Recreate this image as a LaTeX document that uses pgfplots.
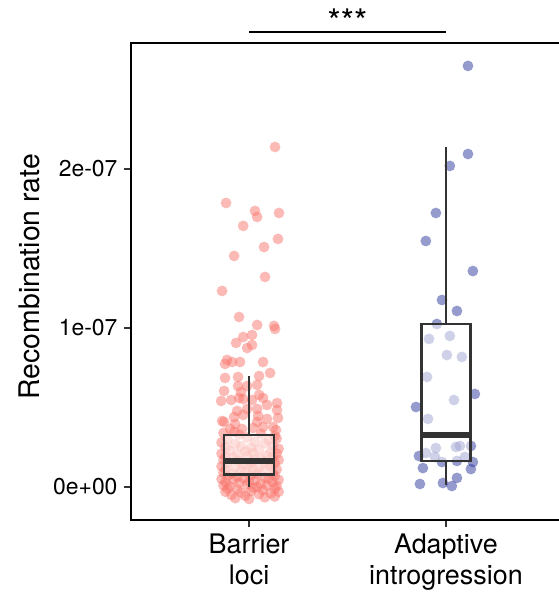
\documentclass[border=0pt]{standalone}
\usepackage{pgfplots}
\pgfplotsset{compat=1.18}
\usepackage{fontspec}
\setmainfont{TeX Gyre Heros}
\definecolor{redpt}{HTML}{F8766D}
\definecolor{bluept}{RGB}{45,55,158}
\definecolor{boxc}{HTML}{333333}
\begin{document}
\begin{tikzpicture}
\begin{axis}[
  set layers,
  scale only axis, width=433bp, height=477bp,
  at={(131bp,91bp)}, anchor=south west,
  xmin=0.4, xmax=2.6, ymin=-0.2075, ymax=2.792,
  clip=false,
  axis line style={line width=1.5bp, black},
  tick style={line width=1.5bp, boxc},
  major tick length=7bp, tick align=outside,
  xtick={1,2}, xticklabels={{Barrier\\loci},{Adaptive\\introgression}},
  ytick={0,1,2}, yticklabels={0e+00,1e-07,2e-07},
  xtick pos=bottom, ytick pos=left,
  xticklabel style={align=center, font=\fontsize{27}{31}\selectfont, yshift=-3bp},
  yticklabel style={font=\fontsize{23}{26}\selectfont, xshift=-3bp},
  ylabel={Recombination rate},
  ylabel style={at={(axis description cs:-0.235,0.51)}, anchor=center, font=\fontsize{28.5}{32}\selectfont},
  boxline/.style={draw=boxc, line width=2.7bp, line join=miter, mark=none, on layer=axis foreground},
]
% Barrier loci points
\addplot[only marks, mark=*, mark size=5.4bp, mark options={fill=redpt, fill opacity=0.5, draw opacity=0}] table[row sep=\\] {
x y\\
1.132 2.138\\ 0.883 1.786\\ 1.030 1.736\\ 1.041 1.698\\ 1.152 1.723\\ 0.970 1.642\\
1.147 1.560\\ 1.076 1.509\\ 0.924 1.453\\ 1.081 1.321\\ 0.863 1.233\\ 0.949 1.069\\
1.041 1.019\\ 1.127 1.013\\ 1.132 0.994\\ 0.970 0.943\\ 1.015 0.956\\ 0.934 0.906\\
0.990 0.874\\ 1.015 0.893\\ 0.888 0.799\\ 0.914 0.786\\ 0.954 0.786\\ 1.071 0.786\\
0.878 0.774\\ 1.051 0.698\\ 1.107 0.717\\ 0.878 0.686\\ 0.944 0.692\\ 0.944 0.635\\
0.990 0.635\\ 1.041 0.642\\ 0.873 0.604\\ 0.959 0.597\\ 1.051 0.579\\ 1.071 0.560\\
0.858 0.541\\ 0.909 0.547\\ 0.949 0.560\\ 0.970 0.553\\ 1.015 0.547\\ 1.091 0.516\\
1.142 0.528\\ 0.939 0.478\\ 0.990 0.491\\ 1.041 0.491\\ 1.142 0.484\\ 0.924 0.440\\
0.970 0.453\\ 1.046 0.447\\ 0.863 0.415\\ 0.873 0.409\\ 0.929 0.396\\ 1.041 0.409\\
1.091 0.428\\ 1.147 0.434\\ 0.904 0.365\\ 0.964 0.365\\ 1.020 0.371\\ 1.071 0.377\\
1.122 0.377\\ 1.137 0.358\\ 0.924 0.346\\
0.87 0.34\\ 0.95 0.33\\ 1.06 0.335\\ 1.13 0.32\\ 0.89 0.30\\ 0.99 0.31\\ 1.10 0.295\\
1.14 0.305\\ 0.86 0.28\\ 0.93 0.27\\ 1.03 0.285\\ 1.08 0.275\\ 0.88 0.25\\ 0.96 0.255\\
1.01 0.245\\ 1.12 0.26\\ 1.15 0.24\\ 0.90 0.23\\ 0.98 0.225\\ 1.05 0.235\\ 1.11 0.22\\
0.86 0.21\\ 0.94 0.205\\ 1.02 0.215\\ 1.09 0.20\\ 1.14 0.21\\ 0.88 0.19\\ 0.92 0.185\\
0.99 0.195\\ 1.06 0.18\\ 1.12 0.19\\ 0.87 0.17\\ 0.95 0.165\\ 1.03 0.175\\ 1.08 0.16\\
1.15 0.17\\ 0.89 0.15\\ 0.97 0.145\\ 1.01 0.155\\ 1.10 0.14\\ 1.13 0.15\\ 0.86 0.13\\
0.93 0.125\\ 1.00 0.135\\ 1.05 0.12\\ 1.11 0.13\\ 0.88 0.11\\ 0.96 0.105\\ 1.02 0.115\\
1.07 0.10\\ 1.14 0.11\\ 0.87 0.09\\ 0.91 0.085\\ 0.98 0.095\\ 1.04 0.08\\ 1.12 0.09\\
0.89 0.07\\ 0.94 0.065\\ 1.01 0.075\\ 1.08 0.06\\ 1.13 0.07\\ 0.86 0.05\\ 0.92 0.045\\
0.97 0.055\\ 1.03 0.04\\ 1.10 0.05\\ 1.15 0.045\\ 0.88 0.03\\ 0.95 0.025\\ 1.00 0.035\\
1.06 0.02\\ 1.12 0.03\\ 0.87 0.01\\ 0.90 0.005\\ 0.99 0.015\\ 1.04 0.00\\ 1.09 0.01\\
1.14 0.005\\ 0.89 -0.01\\ 0.94 -0.015\\ 1.02 -0.005\\ 1.07 -0.02\\ 1.13 -0.01\\
0.88 -0.03\\ 0.96 -0.035\\ 1.01 -0.025\\ 1.11 -0.04\\ 1.15 -0.03\\ 0.91 -0.05\\
0.98 -0.055\\ 1.05 -0.045\\ 1.13 -0.06\\ 0.93 -0.07\\ 1.00 -0.075\\ 1.08 -0.065\\
};
% Adaptive introgression points
\addplot[only marks, mark=*, mark size=5.4bp, mark options={fill=bluept, fill opacity=0.5, draw opacity=0}] table[row sep=\\] {
x y\\
2.112 2.648\\ 2.112 2.094\\ 2.020 2.019\\ 1.949 1.723\\ 1.898 1.547\\ 2.137 1.358\\
1.980 1.176\\ 2.056 1.107\\ 1.954 1.025\\ 1.914 0.931\\ 2.020 0.950\\ 2.005 0.830\\
2.081 0.818\\ 1.904 0.692\\ 2.147 0.585\\ 2.041 0.547\\ 1.848 0.503\\ 1.909 0.428\\
1.898 0.214\\ 1.863 0.195\\ 1.949 0.245\\ 2.051 0.252\\ 2.071 0.258\\ 2.127 0.258\\
1.944 0.189\\ 1.980 0.157\\ 2.056 0.164\\ 2.096 0.189\\ 2.137 0.157\\ 1.883 0.119\\
2.127 0.113\\ 2.056 0.057\\ 1.868 0.019\\ 1.985 0.025\\ 2.030 0.006\\
};
% Box plot: Barrier loci (whiskers 0 / 0.70, quartiles 0.08 / 0.327, median 0.164)
\addplot[boxline, fill=white, fill opacity=0.55] coordinates {(0.873,0.08) (1.127,0.08) (1.127,0.327) (0.873,0.327)} -- cycle;
\addplot[boxline, line width=2.8bp] coordinates {(1,0) (1,0.08)};
\addplot[boxline, line width=2.8bp] coordinates {(1,0.327) (1,0.70)};
\addplot[boxline, line width=5.5bp] coordinates {(0.873,0.164) (1.127,0.164)};
% Box plot: Adaptive introgression (whiskers 0.013 / 2.138, quartiles 0.164 / 1.025, median 0.327)
\addplot[boxline, fill=white, fill opacity=0.55] coordinates {(1.875,0.164) (2.125,0.164) (2.125,1.025) (1.875,1.025)} -- cycle;
\addplot[boxline, line width=2.8bp] coordinates {(2,0.013) (2,0.164)};
\addplot[boxline, line width=2.8bp] coordinates {(2,1.025) (2,2.138)};
\addplot[boxline, line width=5.5bp] coordinates {(1.875,0.327) (2.125,0.327)};
% significance bar
\draw[line width=1.5bp, black] (axis cs:1,2.862) -- (axis cs:2,2.862);
\node[font=\fontsize{34}{36}\selectfont, anchor=center] at (axis cs:1.5,2.93) {***};
\end{axis}
\pgfresetboundingbox
\useasboundingbox (0,0) rectangle (559bp,611bp);
\end{tikzpicture}
\end{document}
